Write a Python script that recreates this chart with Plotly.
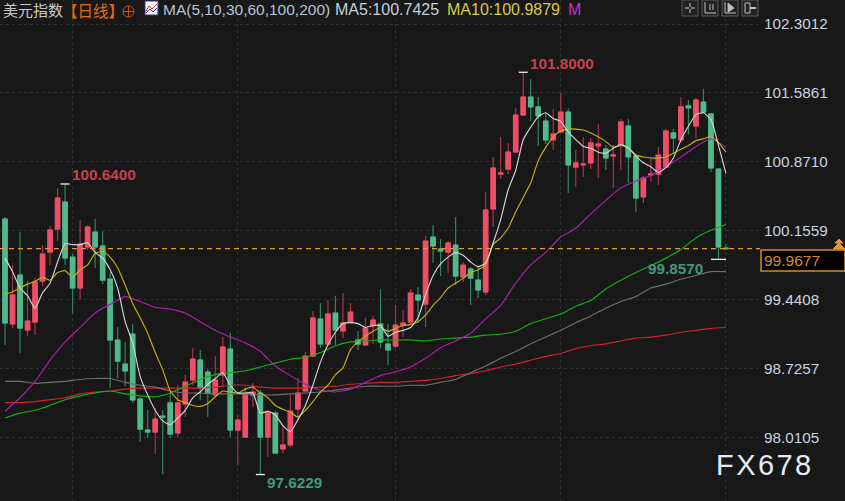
import plotly.graph_objects as go

W, H = 845, 501

opens = [100.276, 99.186, 99.694, 99.123, 99.206, 99.632, 99.933, 100.172, 100.453, 99.881,
         99.56, 99.985, 100.141, 99.996, 99.653, 99.019, 98.77, 99.082, 98.407, 98.085,
         98.064, 98.23, 98.366, 98.054, 98.355, 98.604, 98.812, 98.687, 98.448, 98.656,
         98.926, 98.085, 98.012, 98.448, 98.469, 98.012, 98.261, 97.888, 97.93, 98.303,
         98.49, 98.853, 99.238, 98.978, 99.30, 99.113, 99.206, 99.019, 98.968, 99.165,
         99.186, 98.978, 98.957, 99.175, 99.206, 99.487, 99.393, 100.089, 99.965, 99.933,
         100.006, 99.674, 99.757, 99.642, 99.518, 100.38, 100.743, 100.795, 100.972, 101.356,
         101.543, 101.44, 101.294, 101.097, 101.18, 101.387, 100.816, 100.837, 100.858, 101.035,
         101.003, 100.93, 101.045, 101.242, 100.93, 100.505, 100.733, 100.743, 100.816, 101.17,
         101.097, 101.45, 101.242, 101.491, 101.367, 100.795, 99.975]
highs = [100.297, 99.798, 100.141, 99.632, 99.663, 100.006, 100.204, 100.598, 100.64, 99.913,
         100.266, 100.214, 100.276, 100.152, 99.726, 99.154, 98.999, 99.186, 98.428, 98.293,
         98.313, 98.293, 98.469, 98.552, 98.656, 98.937, 98.916, 98.718, 98.853, 99.05,
         99.092, 98.241, 98.531, 98.573, 98.50, 98.293, 98.282, 98.137, 98.448, 98.625,
         98.895, 99.32, 99.404, 99.435, 99.476, 99.508, 99.404, 99.113, 99.248, 99.269,
         99.549, 99.186, 99.383, 99.331, 99.549, 99.57, 100.10, 100.214, 100.068, 100.047,
         100.297, 99.83, 99.777, 99.798, 100.557, 100.92, 101.128, 101.066, 101.43, 101.80,
         101.73, 101.543, 101.377, 101.42, 101.585, 101.42, 100.993, 101.128, 101.118, 101.263,
         101.045, 101.045, 101.315, 101.315, 100.93, 100.723, 100.92, 101.024, 101.21, 101.21,
         101.543, 101.512, 101.533, 101.63, 101.377, 100.795, 100.016]
lows = [98.968, 99.144, 98.885, 99.061, 99.071, 99.58, 99.798, 100.047, 99.798, 99.30,
        99.445, 99.954, 99.767, 99.601, 98.521, 98.625, 98.542, 98.366, 97.96, 98.002,
        97.836, 97.628, 98.002, 98.012, 98.22, 98.552, 98.397, 98.22, 98.438, 98.531,
        98.012, 97.722, 98.002, 98.324, 97.6229, 97.805, 97.836, 97.846, 97.909, 98.209,
        98.48, 98.843, 98.937, 98.968, 98.968, 99.04, 99.196, 98.916, 98.957, 98.978,
        98.937, 98.76, 98.937, 99.05, 99.186, 99.196, 99.154, 99.819, 99.684, 99.715,
        99.591, 99.622, 99.383, 99.456, 99.487, 100.193, 100.692, 100.743, 100.961, 101.346,
        101.294, 101.035, 101.055, 100.993, 101.17, 100.546, 100.609, 100.712, 100.795, 100.702,
        100.785, 100.598, 100.785, 100.65, 100.349, 100.442, 100.66, 100.63, 100.806, 100.961,
        101.066, 101.15, 101.118, 101.377, 100.764, 99.857, 99.96]
closes = [99.196, 99.487, 99.144, 99.217, 99.622, 99.913, 100.162, 100.494, 99.871, 99.56,
          100.016, 100.193, 99.985, 99.642, 99.019, 98.801, 98.698, 98.397, 98.095, 98.064,
          98.199, 98.22, 98.043, 98.366, 98.583, 98.822, 98.521, 98.469, 98.604, 98.947,
          98.085, 98.189, 98.459, 98.48, 98.012, 98.272, 97.846, 97.93, 98.282, 98.469,
          98.853, 99.248, 98.978, 99.29, 99.123, 99.196, 99.31, 98.978, 99.144, 99.227,
          98.999, 98.916, 99.175, 99.196, 99.508, 99.435, 100.047, 99.996, 99.944, 100.027,
          99.684, 99.798, 99.663, 99.539, 100.37, 100.806, 100.754, 100.972, 101.356, 101.543,
          101.44, 101.346, 101.097, 101.16, 101.387, 100.837, 100.858, 100.847, 101.066, 101.055,
          100.91, 100.941, 101.284, 100.92, 100.494, 100.702, 100.743, 100.941, 101.19, 101.118,
          101.44, 101.43, 101.512, 101.387, 100.806, 99.985, 99.9677]

ma5 = [99.87, 99.73, 99.56, 99.48, 99.35, 99.51, 99.61, 99.83, 100.02, 100.01,
       100.01, 100.03, 99.93, 99.87, 99.75, 99.56, 99.21, 98.99, 98.64, 98.45,
       98.29, 98.18, 98.14, 98.21, 98.29, 98.42, 98.48, 98.56, 98.62, 98.68,
       98.55, 98.47, 98.47, 98.47, 98.26, 98.28, 98.24, 98.13, 98.07, 98.19,
       98.34, 98.55, 98.79, 98.97, 99.10, 99.19, 99.20, 99.19, 99.15, 99.17,
       99.17, 99.06, 99.10, 99.12, 99.15, 99.25, 99.49, 99.69, 99.81, 99.88,
       99.93, 99.90, 99.83, 99.78, 99.82, 100.03, 100.27, 100.58, 100.78, 101.10,
       101.23, 101.34, 101.38, 101.32, 101.29, 101.18, 101.10, 101.03, 101.01, 100.97,
       100.96, 101.01, 101.05, 101.01, 100.93, 100.86, 100.82, 100.76, 100.81, 100.91,
       101.10, 101.24, 101.36, 101.38, 101.31, 101.04, 100.75]
ma10 = [99.49, 99.52, 99.56, 99.60, 99.63, 99.67, 99.64, 99.72, 99.74, 99.67,
        99.75, 99.80, 99.92, 99.94, 99.88, 99.77, 99.59, 99.40, 99.25, 99.09,
        98.89, 98.71, 98.49, 98.40, 98.37, 98.34, 98.33, 98.36, 98.43, 98.49,
        98.48, 98.47, 98.51, 98.53, 98.47, 98.42, 98.34, 98.30, 98.27, 98.22,
        98.29, 98.38, 98.48, 98.55, 98.66, 98.73, 98.92, 99.00, 99.06, 99.11,
        99.15, 99.11, 99.14, 99.17, 99.18, 99.21, 99.28, 99.38, 99.46, 99.56,
        99.61, 99.66, 99.72, 99.75, 99.80, 100.01, 100.08, 100.18, 100.35, 100.50,
        100.65, 100.88, 101.02, 101.13, 101.19, 101.21, 101.21, 101.20, 101.17, 101.13,
        101.08, 101.02, 101.04, 101.02, 100.94, 100.92, 100.91, 100.91, 100.92, 100.96,
        101.00, 101.04, 101.09, 101.11, 101.13, 101.07, 100.97]

# the slow averages were read every second bar
ma30 = [98.28, 98.42, 98.59, 98.81, 99.00, 99.15, 99.30, 99.39, 99.47, 99.42,
        99.36, 99.34, 99.30, 99.21, 99.12, 99.05, 98.99, 98.90, 98.75, 98.65,
        98.56, 98.50, 98.48, 98.51, 98.58, 98.65, 98.69, 98.74, 98.83, 98.94,
        99.01, 99.09, 99.24, 99.38, 99.61, 99.80, 99.93, 100.09, 100.18, 100.33,
        100.47, 100.60, 100.67, 100.73, 100.82, 100.92, 101.03, 101.11, 101.02]
ma60 = [98.21, 98.26, 98.29, 98.34, 98.40, 98.44, 98.47, 98.49, 98.46, 98.44,
        98.43, 98.47, 98.54, 98.61, 98.66, 98.68, 98.70, 98.74, 98.78, 98.82,
        98.84, 98.89, 98.96, 99.00, 99.01, 99.02, 99.02, 99.02, 99.01, 99.03,
        99.04, 99.05, 99.07, 99.08, 99.11, 99.19, 99.24, 99.29, 99.37, 99.43,
        99.55, 99.64, 99.72, 99.79, 99.87, 99.96, 100.08, 100.16, 100.22]
ma100 = [98.59, 98.59, 98.57, 98.58, 98.59, 98.61, 98.62, 98.62, 98.58, 98.55,
         98.53, 98.49, 98.47, 98.47, 98.46, 98.46, 98.46, 98.45, 98.45, 98.46,
         98.47, 98.48, 98.50, 98.52, 98.54, 98.54, 98.54, 98.55, 98.55, 98.58,
         98.61, 98.68, 98.75, 98.83, 98.90, 98.98, 99.05, 99.12, 99.20, 99.27,
         99.35, 99.42, 99.47, 99.56, 99.60, 99.65, 99.69, 99.73, 99.73]
ma200 = [98.37, 98.37, 98.38, 98.40, 98.42, 98.46, 98.48, 98.49, 98.51, 98.52,
         98.52, 98.52, 98.52, 98.52, 98.53, 98.55, 98.55, 98.53, 98.52, 98.52,
         98.52, 98.53, 98.54, 98.56, 98.57, 98.58, 98.58, 98.59, 98.60, 98.62,
         98.65, 98.67, 98.70, 98.74, 98.77, 98.81, 98.85, 98.88, 98.93, 98.96,
         98.98, 99.01, 99.04, 99.05, 99.07, 99.10, 99.12, 99.14, 99.15]

tick_vals = [102.3012, 101.5861, 100.8710, 100.1559, 99.4408, 98.7257, 98.0105]
tick_text = ['102.3012', '101.5861', '100.8710', '100.1559', '99.4408', '98.7257', '98.0105']
grid_bars = [9, 31, 52, 74, 96]
last_price = 99.9677

bars = list(range(len(closes)))
slow_bars = bars[::2]

RED, RED_DK = '#ee4f66', '#a8344a'
GREEN, GREEN_DK = '#52b98c', '#2f8560'
LATIN = 'Liberation Sans, Arial, sans-serif'
CJK = 'Noto Sans CJK SC, sans-serif'

fig = go.Figure()

# wicks first, then bodies on top so wicks can be darker than the bodies
fig.add_trace(go.Candlestick(x=bars, open=opens, high=highs, low=lows, close=closes,
                             whiskerwidth=0,
                             increasing=dict(line=dict(color=RED_DK, width=1.2), fillcolor=RED),
                             decreasing=dict(line=dict(color=GREEN_DK, width=1.2), fillcolor=GREEN)))
fig.add_trace(go.Candlestick(x=bars, open=opens, close=closes,
                             high=[max(o, c) for o, c in zip(opens, closes)],
                             low=[min(o, c) for o, c in zip(opens, closes)],
                             whiskerwidth=0,
                             increasing=dict(line=dict(color=RED, width=1), fillcolor=RED),
                             decreasing=dict(line=dict(color=GREEN, width=1), fillcolor=GREEN)))

for xs, ys, color in [(slow_bars, ma200, '#d0232b'), (slow_bars, ma100, '#6f6f6f'),
                      (slow_bars, ma60, '#14b014'), (slow_bars, ma30, '#b01cb4'),
                      (bars, ma10, '#c4b20e'), (bars, ma5, '#d4d4d4')]:
    fig.add_trace(go.Scatter(x=xs, y=ys, mode='lines',
                             line=dict(color=color, width=1.15, shape='spline', smoothing=0.5)))


def px(x):
    return x / W


def py(y):
    return 1 - y / H


def paper_text(x, y, text, color, size=14, family=LATIN, anchor='left'):
    fig.add_annotation(xref='paper', yref='paper', x=px(x), y=py(y), text=text, showarrow=False,
                       xanchor=anchor, yanchor='middle', borderpad=0,
                       font=dict(color=color, size=size, family=family))


def box(x0, y0, x1, y1, line, fill, width=1):
    fig.add_shape(type='rect', xref='paper', yref='paper', x0=px(x0), x1=px(x1), y0=py(y0), y1=py(y1),
                  line=dict(color=line, width=width), fillcolor=fill)


def poly(points, color, width=1, fill=None):
    path = 'M ' + ' L '.join(f'{px(a):.5f},{py(b):.5f}' for a, b in points)
    if fill:
        path += ' Z'
    fig.add_shape(type='path', xref='paper', yref='paper', path=path,
                  line=dict(color=color, width=width), fillcolor=fill)


# current price line
fig.add_shape(type='line', xref='x domain', yref='y', x0=0, x1=1, y0=last_price, y1=last_price,
              line=dict(color='#e0983e', width=1.2, dash='5px,4px'))

# high / low markers
for bar, val, half in [(8, highs[8], 0.6), (69, highs[69], 0.6), (34, lows[34], 0.6), (95, lows[95], 1.0)]:
    fig.add_shape(type='line', xref='x', yref='y', x0=bar - half, x1=bar + half, y0=val, y1=val,
                  line=dict(color='#f0f0f0', width=1.3))

for bar, val, text, color, dx, dy in [(8, highs[8], '100.6400', '#c8404f', 0.6, 9),
                                      (69, highs[69], '101.8000', '#c8404f', 0.6, 9),
                                      (34, lows[34], '97.6229', '#3f9a78', 0.6, -8),
                                      (95, lows[95], '99.8570', '#3f9a78', -9.6, -9)]:
    fig.add_annotation(xref='x', yref='y', x=bar + dx, y=val, text=f'<b>{text}</b>', showarrow=False,
                       xanchor='left', yanchor='middle', yshift=dy,
                       font=dict(color=color, size=15.3, family=LATIN))

# header row
paper_text(2, 10, '美元指数', '#c8c8c8', 15, CJK)
paper_text(61, 10, '【日线】', '#e06a10', 15.5, CJK)
fig.add_shape(type='circle', xref='paper', yref='paper', x0=px(123), x1=px(134), y0=py(17), y1=py(6),
              line=dict(color='#c85a10', width=1))
poly([(123, 11.5), (134, 11.5)], '#c85a10')
poly([(128.5, 6), (128.5, 17)], '#c85a10')
box(145, 1, 158, 15, '#3a3a7a', '#f4f4f4')
poly([(146, 11), (149, 6), (152, 9), (157, 4)], '#d83030')
poly([(146, 13), (150, 9), (153, 12), (157, 8)], '#3040c0')
paper_text(162, 10, 'MA(5,10,30,60,100,200)', '#b4c4d4', 15.5)
paper_text(334, 10, 'MA5:100.7425', '#c4d0d8', 16)
paper_text(446, 10, 'MA10:100.9879', '#d8cc40', 16)
paper_text(567, 10, 'M', '#c030d0', 16)

# toolbar buttons
for left in [682, 702, 722, 742]:
    box(left, 0, left + 16, 16, '#5a5a5a', '#222222')
poly([(690, 3), (690, 7)], '#d0d0d0')
poly([(690, 9), (690, 13)], '#d0d0d0')
poly([(685, 8), (689, 8)], '#d0d0d0')
poly([(691, 8), (695, 8)], '#d0d0d0')
poly([(705, 2), (705, 13), (716, 13)], '#c0c0c0')
poly([(710, 4), (710, 10)], '#c0c0c0')
poly([(713, 4), (713, 10)], '#c0c0c0')
poly([(725, 2), (725, 13), (736, 13)], '#c0c0c0')
poly([(728, 3), (734, 8), (728, 12)], '#c0c0c0', fill='#c0c0c0')
box(745, 3, 750, 13, '#c0c0c0', '#222222')
poly([(750, 8), (756, 8)], '#c0c0c0', 2)

# last price tag
box(761, 250, 845, 271, '#d08a30', '#000000', 1.5)
paper_text(763, 260.5, '99.9677', '#d68a2e', 15.5)
poly([(833, 249), (845, 249), (839, 243)], '#e0983e', fill='#e0983e')
poly([(835, 243), (843, 243), (839, 239)], '#e0983e', fill='#e0983e')

paper_text(715, 465, 'F\u200aX\u200a6\u200a7\u200a8', '#e4ecf4', 29)

fig.update_layout(
    width=W, height=H, template='none', showlegend=False,
    paper_bgcolor='#181818', plot_bgcolor='#181818',
    margin=dict(l=0, r=0, t=0, b=0), boxgap=0.15,
    xaxis=dict(domain=[0, 760 / W], range=[-0.666, 100.53], rangeslider=dict(visible=False),
               tickvals=grid_bars, showticklabels=False, ticks='', zeroline=False,
               showgrid=True, gridcolor='#303030', griddash='dot', gridwidth=1, showline=False),
    yaxis=dict(range=[97.348, 102.5504], side='right', tickvals=tick_vals, ticktext=tick_text,
               ticks='', zeroline=False, showgrid=True, gridcolor='#303030', griddash='dot',
               gridwidth=1, showline=False, automargin=False, ticklabelstandoff=3,
               tickfont=dict(color='#c8d4e0', size=15.3, family=LATIN)),
)

fig.write_html("out.html", config=dict(displayModeBar=False),
               post_script="document.body.style.margin='0';")
